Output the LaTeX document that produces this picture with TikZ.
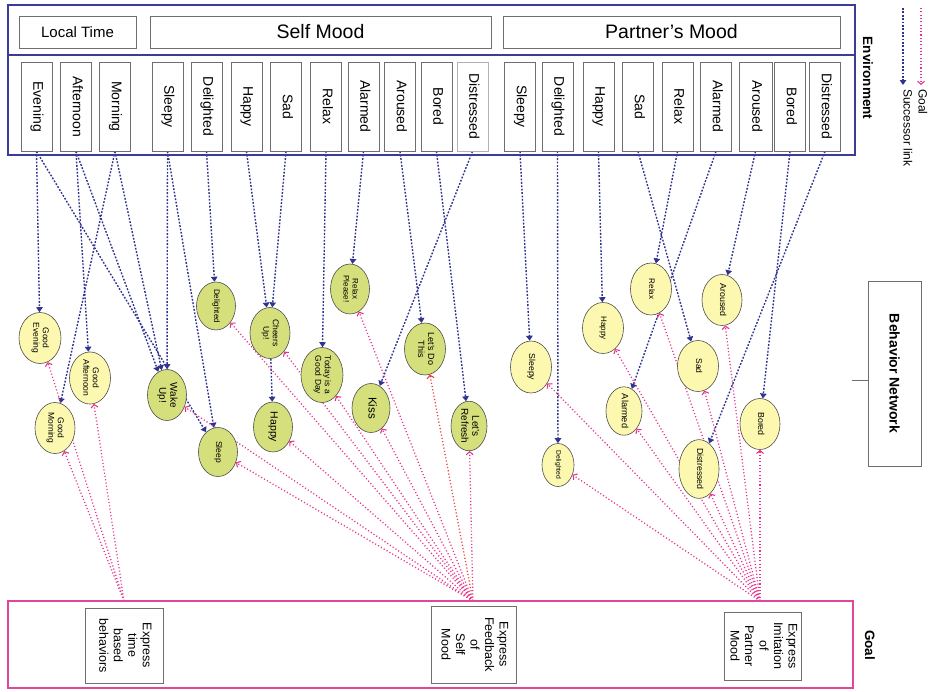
\documentclass[tikz,border=0pt]{standalone}
\usepackage{fontspec}
\setmainfont{Liberation Sans}
\usetikzlibrary{arrows.meta,shapes.geometric}
\pgfdeclarelayer{bg}
\pgfsetlayers{bg,main}
\definecolor{navy}{HTML}{3A3C98}
\definecolor{linkblue}{HTML}{30348E}
\definecolor{goalpink}{HTML}{E8338C}
\definecolor{goalred}{HTML}{EE3B3B}
\definecolor{ellg}{HTML}{D5E07C}
\definecolor{elly}{HTML}{FDF8B0}
\definecolor{boxgray}{HTML}{6E6E6E}
\definecolor{framepink}{HTML}{E0479A}
\newcommand\rtx[1]{\rotatebox{-90}{\begin{tabular}{@{}c@{}}#1\end{tabular}}}
\tikzset{
  envbox/.style={draw=boxgray, line width=0.8pt, minimum width=31pt, minimum height=89pt, inner sep=0pt, font=\fontsize{14}{16}\selectfont},
  topbox/.style={draw=boxgray, line width=0.8pt, minimum height=32pt, inner sep=0pt},
  ellbase/.style={ellipse, draw=black!70, line width=0.6pt, inner sep=0pt},
  elG/.style={ellbase, fill=ellg},
  elY/.style={ellbase, fill=elly},
  goalbox/.style={draw=boxgray, line width=0.8pt, inner sep=0pt, font=\fontsize{12.5}{14.5}\selectfont},
  succ/.style={linkblue, line width=1.4pt, dash pattern=on 1.8pt off 1.6pt, -{Triangle[length=5pt,width=6.5pt]}},
  goallink/.style={goalpink, line width=1.3pt, dash pattern=on 1.1pt off 2.2pt, -{Straight Barb[length=3pt,width=7pt,line width=1.1pt]}},
  sidelabel/.style={font=\bfseries\fontsize{13.5}{15}\selectfont},
}
\begin{document}
\begin{tikzpicture}[x=1pt,y=-1pt]
\useasboundingbox (0,0) rectangle (929,691);
% environment frame
\draw[navy, line width=1.3pt] (8,5) rectangle (855,155);
\draw[navy, line width=1.3pt] (8,55) -- (855,55);
\node[topbox, minimum width=117pt, font=\fontsize{15}{17}\selectfont] (lt) at (77.5,32) {Local Time};
\node[topbox, minimum width=341pt, font=\fontsize{19.5}{21}\selectfont] (sm) at (320.5,32) {Self Mood};
\node[topbox, minimum width=337pt, font=\fontsize{19.5}{21}\selectfont] (pm) at (671.5,32) {Partner’s Mood};
% environment boxes
\node[envbox] (ev) at (36.5,106.5) {\rtx{Evening}};
\node[envbox] (af) at (76,106.5) {\rtx{Afternoon}};
\node[envbox] (mo) at (115,106.5) {\rtx{Morning}};
\node[envbox] (ssl) at (167.5,106.5) {\rtx{Sleepy}};
\node[envbox] (sde) at (206.5,106.5) {\rtx{Delighted}};
\node[envbox] (sha) at (246.5,106.5) {\rtx{Happy}};
\node[envbox] (ssa) at (286,106.5) {\rtx{Sad}};
\node[envbox] (sre) at (326,106.5) {\rtx{Relax}};
\node[envbox] (sal) at (363.5,106.5) {\rtx{Alarmed}};
\node[envbox] (sar) at (400,106.5) {\rtx{Aroused}};
\node[envbox] (sbo) at (436.5,106.5) {\rtx{Bored}};
\node[envbox, draw=black!30] (sdi) at (472.5,106.5) {\rtx{Distressed}};
\node[envbox] (psl) at (520,106.5) {\rtx{Sleepy}};
\node[envbox] (pde) at (557.5,106.5) {\rtx{Delighted}};
\node[envbox] (pha) at (598.5,106.5) {\rtx{Happy}};
\node[envbox] (psa) at (638,106.5) {\rtx{Sad}};
\node[envbox] (pre) at (677.5,106.5) {\rtx{Relax}};
\node[envbox] (pal) at (716,106.5) {\rtx{Alarmed}};
\node[envbox, minimum width=33pt] (par) at (755.5,106.5) {\rtx{Aroused}};
\node[envbox] (pbo) at (790,106.5) {\rtx{Bored}};
\node[envbox] (pdi) at (825,106.5) {\rtx{Distressed}};
% ellipses - time
\node[elY, minimum width=42pt, minimum height=51pt, font=\fontsize{8.5}{9.5}\selectfont] (gev) at (40,338) {\rtx{Good\\Evening}};
\node[elY, minimum width=41pt, minimum height=52pt, font=\fontsize{8.5}{9.5}\selectfont] (gaf) at (90,378) {\rtx{Good\\Afternoon}};
\node[elY, minimum width=40pt, minimum height=51pt, font=\fontsize{8.5}{9.5}\selectfont] (gmo) at (55,428) {\rtx{Good\\Morning}};
% ellipses - self
\node[elG, minimum width=39pt, minimum height=51pt, font=\fontsize{10}{11}\selectfont] (wake) at (167,395) {\rtx{Wake\\Up!}};
\node[elG, minimum width=39pt, minimum height=48pt, font=\fontsize{8}{9}\selectfont] (sdel) at (216,306) {\rtx{Delighted}};
\node[elG, minimum width=40pt, minimum height=51pt, font=\fontsize{8.5}{9.5}\selectfont] (cheer) at (270,333) {\rtx{Cheers\\Up!}};
\node[elG, minimum width=39pt, minimum height=49pt, font=\fontsize{8.5}{9.5}\selectfont] (sleep) at (218,452) {\rtx{Sleep}};
\node[elG, minimum width=39pt, minimum height=50pt, font=\fontsize{10.5}{11.5}\selectfont] (shap) at (273,427) {\rtx{Happy}};
\node[elG, minimum width=42pt, minimum height=55pt, font=\fontsize{8.5}{9.5}\selectfont] (today) at (322,375) {\rtx{Today is a\\Good Day}};
\node[elG, minimum width=39pt, minimum height=50pt, font=\fontsize{8}{9}\selectfont] (relaxp) at (350,289) {\rtx{Relax\\Please!}};
\node[elG, minimum width=38pt, minimum height=49pt, font=\fontsize{11.5}{12.5}\selectfont] (kiss) at (371,408) {\rtx{Kiss}};
\node[elG, minimum width=41pt, minimum height=52pt, font=\fontsize{9}{10}\selectfont] (letsdo) at (425,349) {\rtx{Let’s Do\\This}};
\node[elG, minimum width=36pt, minimum height=46pt, font=\fontsize{10}{11}\selectfont] (refresh) at (469,426) {\rtx{Let’s\\Refresh}};
% ellipses - partner
\node[elY, minimum width=41pt, minimum height=52pt, font=\fontsize{8.7}{9.7}\selectfont] (esl) at (531,367) {\rtx{Sleepy}};
\node[elY, minimum width=32pt, minimum height=43pt, font=\fontsize{6.7}{7.7}\selectfont] (edel) at (558,465) {\rtx{Delighted}};
\node[elY, minimum width=41pt, minimum height=51pt, font=\fontsize{8}{9}\selectfont] (ehap) at (603,328) {\rtx{Happy}};
\node[elY, minimum width=41pt, minimum height=52pt, font=\fontsize{8}{9}\selectfont] (erel) at (651,289) {\rtx{Relax}};
\node[elY, minimum width=40pt, minimum height=51pt, font=\fontsize{8.8}{9.8}\selectfont] (earo) at (722,300) {\rtx{Aroused}};
\node[elY, minimum width=41pt, minimum height=51pt, font=\fontsize{8.5}{9.5}\selectfont] (esad) at (698,366) {\rtx{Sad}};
\node[elY, minimum width=36pt, minimum height=45pt, font=\fontsize{9.2}{10.2}\selectfont] (ealm) at (624,411) {\rtx{Alarmed}};
\node[elY, minimum width=40pt, minimum height=51pt, font=\fontsize{8.8}{9.8}\selectfont] (ebor) at (760,424) {\rtx{Bored}};
\node[elY, minimum width=40pt, minimum height=51pt, font=\fontsize{8.8}{9.8}\selectfont] (edis) at (699,469) {\rtx{Distressed}};
% goal frame and boxes
\draw[framepink, line width=1.2pt] (8,601) rectangle (853,688);
\node[goalbox, minimum width=78pt, minimum height=75pt] (gb1) at (124,645.5) {\rtx{Express\\time\\based\\behaviors}};
\node[goalbox, minimum width=85pt, minimum height=77pt] (gb2) at (473.5,644.5) {\rtx{Express\\Feedback\\of\\Self\\Mood}};
\node[goalbox, minimum width=77pt, minimum height=68pt] (gb3) at (762.5,646) {\rtx{Express\\Imitation\\of\\Partner\\Mood}};
\coordinate (g1) at (124,601);
\coordinate (g2) at (473,601);
\coordinate (g3) at (760,601);
% side labels
\node[sidelabel] (envlab) at (868,78) {\rotatebox{-90}{Environment}};
\node[draw=boxgray, line width=0.8pt, minimum width=53pt, minimum height=185pt, inner sep=0pt] (bn) at (894.5,373.5) {\rotatebox{-90}{\bfseries\fontsize{14}{16}\selectfont Behavior Network}};
\coordinate (bnl) at (852,380);
\draw[boxgray, line width=0.8pt] (bnl) -- (bnl -| bn.west);
\node[sidelabel] (goallab) at (870,645) {\rotatebox{-90}{Goal}};
% legend
\coordinate (lb1) at (903,8); \coordinate (lb2) at (903,85);
\coordinate (lp1) at (921,8); \coordinate (lp2) at (921,85);
\draw[succ] (lb1) -- (lb2);
\draw[goallink] (lp1) -- (lp2);
\node[anchor=north, inner sep=0pt, font=\fontsize{12}{14}\selectfont] (lsl) at (908,89) {\rotatebox{-90}{Successor link}};
\node[anchor=north, inner sep=0pt, font=\fontsize{12}{14}\selectfont] (lgl) at (923,89) {\rotatebox{-90}{Goal}};
% connectors
\begin{pgfonlayer}{bg}
\draw[succ] (ev.south) -- (gev);
\draw[succ] (ev.south) -- (sleep);
\draw[succ] (af.south) -- (gaf);
\draw[succ] (af.south) -- (wake);
\draw[succ] (mo.south) -- (gmo);
\draw[succ] (mo.south) -- (wake);
\draw[succ] (ssl.south) -- (wake);
\draw[succ] (ssl.south) -- (sleep);
\draw[succ] (sde.south) -- (sdel);
\draw[succ] (sha.south) -- (cheer);
\draw[succ] (ssa.south) -- (cheer);
\draw[succ] (cheer) -- (shap);
\draw[succ] (sre.south) -- (today);
\draw[succ] (sal.south) -- (relaxp);
\draw[succ] (sar.south) -- (letsdo);
\draw[succ] (sbo.south) -- (refresh);
\draw[succ] (sdi.south) -- (kiss);
\draw[succ] (psl.south) -- (esl);
\draw[succ] (pde.south) -- (edel);
\draw[succ] (pha.south) -- (ehap);
\draw[succ] (psa.south) -- (esad);
\draw[succ] (pre.south) -- (erel);
\draw[succ] (pal.south) -- (ealm);
\draw[succ] (par.south) -- (earo);
\draw[succ] (pbo.south) -- (ebor);
\draw[succ] (pdi.south) -- (edis);
\foreach \t in {gev,gaf,gmo} \draw[goallink] (g1) -- (\t);
\foreach \t in {wake,sdel,cheer,sleep,shap,today,relaxp,kiss,refresh} \draw[goallink] (g2) -- (\t);
\draw[goallink, goalred] (g2) -- (letsdo);
\foreach \t in {esl,edel,ehap,erel,earo,esad,ealm,ebor,edis} \draw[goallink] (g3) -- (\t);
\end{pgfonlayer}
\end{tikzpicture}
\end{document}
